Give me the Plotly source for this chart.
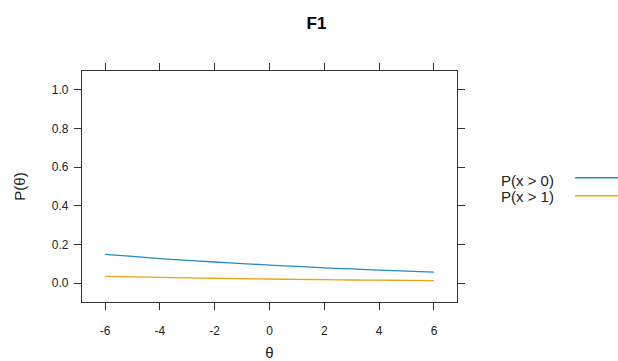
import plotly.graph_objects as go

theta = [-6, -5, -4, -3, -2, -1, 0, 1, 2, 3, 4, 5, 6]
p_gt0 = [0.149, 0.138, 0.127, 0.118, 0.109, 0.101, 0.093, 0.086, 0.079, 0.073, 0.067, 0.062, 0.057]
p_gt1 = [0.035, 0.032, 0.029, 0.027, 0.025, 0.023, 0.021, 0.019, 0.018, 0.016, 0.015, 0.014, 0.013]
series_names = ["P(x > 0)", "P(x > 1)"]
colors = ["#2289CA", "#EAA312"]
x_ticks = [-6, -4, -2, 0, 2, 4, 6]
y_ticks = [0.0, 0.2, 0.4, 0.6, 0.8, 1.0]

FONT = "Liberation Sans, Arial"

fig = go.Figure()
for ys, name, c in zip([p_gt0, p_gt1], series_names, colors):
    fig.add_trace(go.Scatter(x=theta, y=ys, mode="lines", name=name,
                             line=dict(color=c, width=1.3, shape="spline"),
                             showlegend=False))

axis_common = dict(showline=True, linecolor="#333333", linewidth=1.3, mirror="ticks",
                   ticks="outside", ticklen=7, tickwidth=1.3, tickcolor="#333333",
                   showgrid=False, zeroline=False, automargin=False,
                   tickfont=dict(family=FONT, size=12, color="#222222"))

fig.update_xaxes(range=[-6.84, 6.84], tickvals=x_ticks, ticktext=[str(v) for v in x_ticks],
                 ticklabelstandoff=10,
                 title=dict(text="θ", font=dict(family=FONT, size=15, color="#222222"), standoff=14),
                 **axis_common)
fig.update_yaxes(range=[-0.098, 1.098], tickvals=y_ticks, ticktext=[f"{v:.1f}" for v in y_ticks],
                 ticklabelstandoff=3,
                 title=dict(text="P(θ)", font=dict(family=FONT, size=15, color="#222222"), standoff=22),
                 **axis_common)

# legend (text left, line sample right, as in lattice key)
text_y = [0.528, 0.457]
line_y = [0.538, 0.460]
for name, c, ty, ly in zip(series_names, colors, text_y, line_y):
    fig.add_annotation(x=1.112, y=ty, xref="paper", yref="paper", text=name, showarrow=False,
                       xanchor="left", yanchor="middle",
                       font=dict(family=FONT, size=15, color="#222222"))
    fig.add_shape(type="line", xref="paper", yref="paper", x0=1.315, x1=1.43, y0=ly, y1=ly,
                  line=dict(color=c, width=1.5))

fig.update_layout(
    width=618, height=361,
    margin=dict(l=82, r=161, t=71, b=59),
    paper_bgcolor="white", plot_bgcolor="white",
    title=dict(text="<b>F1</b>", x=316.5 / 618, xanchor="center", y=1 - 23 / 361, yanchor="middle",
               font=dict(family=FONT, size=17, color="#000000")),
)

fig.write_html("out.html")
